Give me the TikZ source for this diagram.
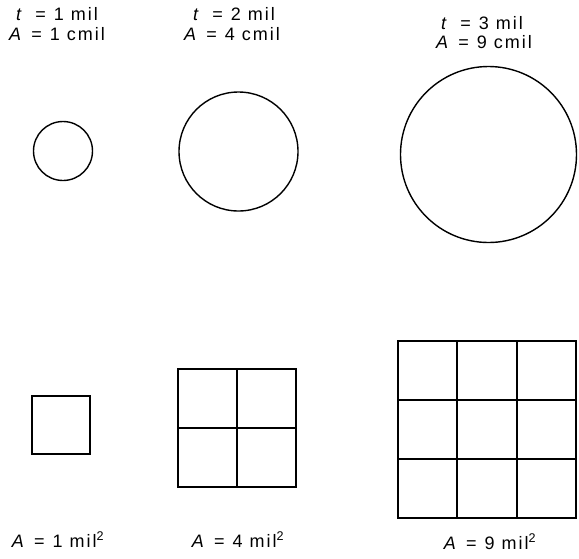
\documentclass[tikz,border=0pt]{standalone}
\usepackage{fontspec}
\setmainfont{Liberation Sans}[LetterSpace=11]
\newcommand{\eqsp}{\hspace{0.45em}=\hspace{0.45em}}
\begin{document}
\begin{tikzpicture}[x=1pt,y=-1pt,
  fig/.style={line width=1.4pt},
  sq/.style={line width=1.8pt},
  lbl/.style={anchor=base,inner sep=0pt,font=\fontsize{18}{21}\selectfont}]
\useasboundingbox (0,0) rectangle (579,558);
% top labels
\node[lbl] (t1) at (57,20) {\textit{t}\hspace{0.2em}\eqsp 1 mil};
\node[lbl] (a1) at (57,40) {\textit{A}\eqsp 1 cmil};
\node[lbl] (t2) at (234,20) {\textit{t}\hspace{0.2em}\eqsp 2 mil};
\node[lbl] (a2) at (232,40) {\textit{A}\eqsp 4 cmil};
\node[lbl] (t3) at (482,29) {\textit{t}\hspace{0.2em}\eqsp 3 mil};
\node[lbl] (a3) at (484,48) {\textit{A}\eqsp 9 cmil};
% circles
\draw[fig] (63,151) circle (29.5);
\draw[fig] (238.5,151.5) circle (59.5);
\draw[fig] (488.5,154.5) circle (88);
% squares
\draw[sq] (32,396) rectangle (90,454);
\draw[sq] (178,369) rectangle (296,487);
\draw[sq] (237,369) -- (237,487);
\draw[sq] (178,428) -- (296,428);
\draw[sq] (398,341) rectangle (576,518);
\draw[sq] (457,341) -- (457,518);
\draw[sq] (517,341) -- (517,518);
\draw[sq] (398,400) -- (576,400);
\draw[sq] (398,459) -- (576,459);
% bottom labels
\node[lbl] (b1) at (58,547) {\textit{A}\eqsp 1 mil\textsuperscript{2}};
\node[lbl] (b2) at (238,547) {\textit{A}\eqsp 4 mil\textsuperscript{2}};
\node[lbl] (b3) at (490,549) {\textit{A}\eqsp 9 mil\textsuperscript{2}};
\end{tikzpicture}
\end{document}
